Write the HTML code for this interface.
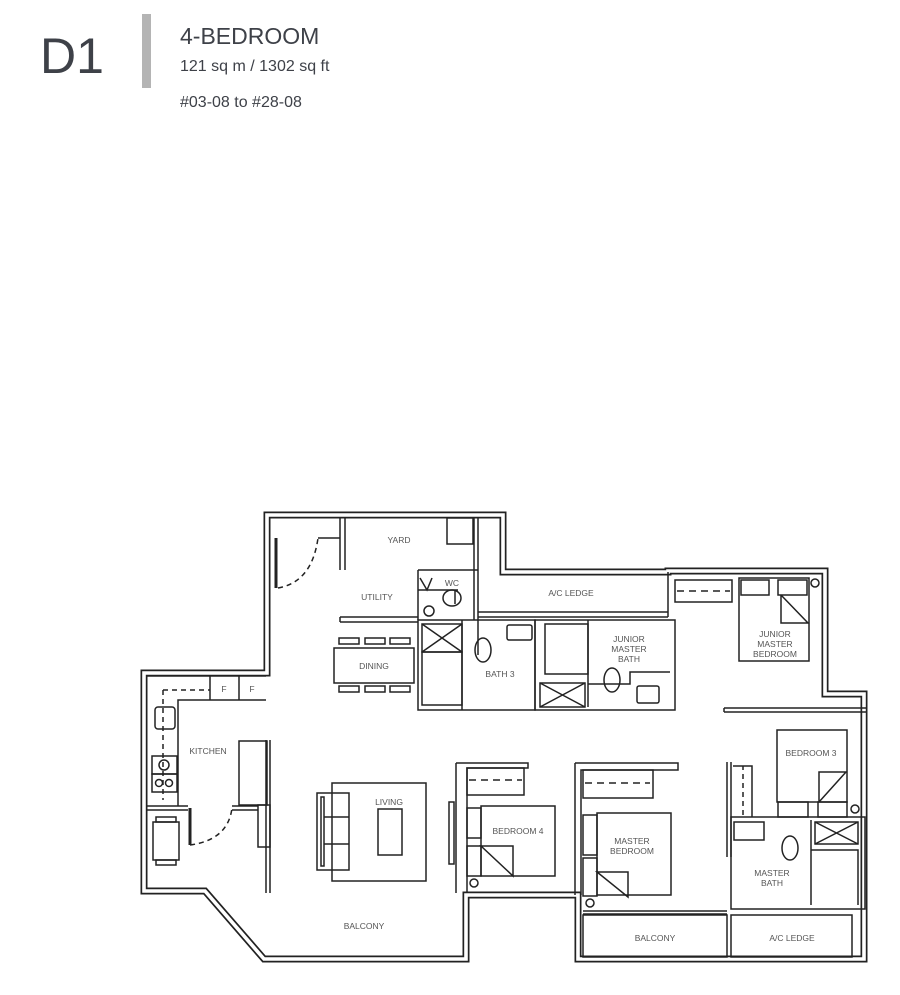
<!DOCTYPE html>
<html><head><meta charset="utf-8"><style>
html,body{margin:0;padding:0;background:#fff;width:900px;height:995px;overflow:hidden}
svg{display:block}
.t{font-family:"Liberation Sans",sans-serif;fill:#555;font-size:8.5px;text-anchor:middle}
</style></head><body>
<svg width="900" height="995" viewBox="0 0 900 995" xmlns="http://www.w3.org/2000/svg">
<!-- header -->
<text x="40" y="73" font-family="Liberation Sans,sans-serif" font-size="50" fill="#3e4148">D1</text>
<rect x="142" y="14" width="9" height="74" fill="#b4b4b4"/>
<text x="180" y="44" font-family="Liberation Sans,sans-serif" font-size="23" fill="#3e4148">4-BEDROOM</text>
<text x="180" y="71" font-family="Liberation Sans,sans-serif" font-size="16" fill="#3e4148">121 sq m / 1302 sq ft</text>
<text x="180" y="107" font-family="Liberation Sans,sans-serif" font-size="16" fill="#3e4148">#03-08 to #28-08</text>

<g fill="none" stroke-linejoin="miter">
<!-- outer walls as double lines -->
<path id="outer" d="M267,515 H503 V572 H668 V571 H825 V694 H864 V959 H578 V895 H466 V959 H264 L205,891 H144 V673 H267 Z" stroke="#222" stroke-width="7"/>
<path d="M267,515 H503 V572 H668 V571 H825 V694 H864 V959 H578 V895 H466 V959 H264 L205,891 H144 V673 H267 Z" stroke="#fff" stroke-width="3.6"/>

<g stroke="#222" stroke-width="1.5">
<!-- living/kitchen wall -->
<path d="M266,740 V893 M270,740 V893"/>
<rect x="239" y="741" width="28" height="64"/>
<rect x="258" y="805" width="12" height="42"/>
<!-- kitchen bottom wall -->
<path d="M147,806 H188 M232,806 H258 M147,810 H188 M232,810 H258"/>
<path d="M190,808 V845" stroke-width="3"/>
<path d="M190,845 Q228,840 232,808" stroke-dasharray="5,4"/>
<!-- kitchen counter -->
<path d="M147,676 H266 M210,676 V700 H178 V806 M210,700 V676 M239,676 V700 M210,700 H266"/>
<path d="M163,690 H210 M163,690 V800" stroke-dasharray="5,4"/>
<rect x="155" y="707" width="20" height="22" rx="3"/>
<rect x="152" y="756" width="25" height="18"/><circle cx="164" cy="765" r="5"/>
<rect x="152" y="774" width="25" height="18"/><circle cx="159" cy="783" r="3.5"/><circle cx="169" cy="783" r="3.5"/>
<text class="t" x="224" y="692" stroke="none">F</text><text class="t" x="252" y="692" stroke="none">F</text>
<!-- kitchen table -->
<rect x="153" y="822" width="26" height="38"/><rect x="156" y="817" width="20" height="5"/><rect x="156" y="860" width="20" height="5"/>
<!-- entry door -->
<path d="M276,538 V588" stroke-width="3"/>
<path d="M278,588 Q312,582 318,538" stroke-dasharray="5,4"/>
<path d="M318,538 H340 M340,518 V570 M345,518 V570"/>
<!-- yard -->
<rect x="447" y="518" width="26" height="26"/>
<path d="M418,570 H478 M418,570 V620 M478,518 V620 M474,518 V620"/>
<!-- WC -->
<path d="M418,590 H458 M455,590 V604 M420,578 L427,590 L432,578"/>
<ellipse cx="452" cy="598" rx="9" ry="8"/><circle cx="429" cy="611" r="5"/>
<!-- utility wall -->
<path d="M340,617 H418 M340,622 H418 M340,617 V622"/>
<!-- dining -->
<rect x="334" y="648" width="80" height="35"/>
<rect x="339" y="638" width="20" height="6"/><rect x="365" y="638" width="20" height="6"/><rect x="390" y="638" width="20" height="6"/>
<rect x="339" y="686" width="20" height="6"/><rect x="365" y="686" width="20" height="6"/><rect x="390" y="686" width="20" height="6"/>
<!-- bath3 block -->
<rect x="418" y="620" width="117" height="90"/>
<rect x="422" y="624" width="40" height="28"/><path d="M422,624 L462,652 M462,624 L422,652"/>
<rect x="422" y="652" width="40" height="53"/>
<path d="M462,620 V710 M478,620 V655"/>
<rect x="507" y="625" width="25" height="15" rx="2"/>
<ellipse cx="483" cy="650" rx="8" ry="12"/>
<!-- A/C ledge bottom -->
<path d="M478,612 H668 M478,617 H668 M668,572 V617"/>
<!-- JM bath block -->
<rect x="535" y="620" width="140" height="90"/>
<rect x="545" y="624" width="43" height="50"/>
<rect x="540" y="683" width="45" height="24"/><path d="M540,683 L585,707 M585,683 L540,707"/>
<path d="M588,620 V707 M588,684 H630 V672 H670"/>
<rect x="637" y="686" width="22" height="17" rx="2"/>
<ellipse cx="612" cy="680" rx="8" ry="12"/>
<!-- JM bedroom -->
<rect x="675" y="580" width="57" height="22"/><path d="M677,591 H730" stroke-dasharray="7,5"/>
<rect x="739" y="578" width="70" height="83"/><rect x="741" y="580" width="28" height="15"/><rect x="778" y="580" width="29" height="15"/>
<path d="M781,595 V623 H808 L781,595"/>
<circle cx="815" cy="583" r="4"/>
<path d="M724,708 H866 M724,712 H866 M724,708 V712"/>
<!-- bedroom 3 -->
<rect x="777" y="730" width="70" height="72"/><path d="M819,802 V772 H846 L819,802"/>
<rect x="778" y="802" width="30" height="15"/><rect x="818" y="802" width="29" height="15"/>
<circle cx="855" cy="809" r="4"/>
<path d="M727,762 V857 M731,762 V857 M733,766 H752 V817 M743,766 V815" stroke-dasharray="0"/>
<path d="M743,770 V815" stroke="#fff" stroke-width="2" stroke-dasharray="4,5"/>
<!-- master bath -->
<rect x="731" y="817" width="134" height="92"/>
<rect x="734" y="822" width="30" height="18"/><rect x="815" y="822" width="43" height="22"/><path d="M815,822 L858,844 M858,822 L815,844"/>
<path d="M811,820 V905 M811,850 H858 V905"/>
<ellipse cx="790" cy="848" rx="8" ry="12"/>
<!-- master A/C ledge and balcony -->
<rect x="731" y="915" width="121" height="42"/>
<rect x="583" y="915" width="144" height="42"/>
<path d="M583,911 H727 M583,914 H727"/>
<!-- master bedroom -->
<path d="M575,763 H678 V770 H581 V895 M575,763 V895"/>
<rect x="583" y="770" width="70" height="28"/><path d="M585,783 H650" stroke-dasharray="7,5"/>
<rect x="597" y="813" width="74" height="82"/><rect x="583" y="815" width="14" height="40"/><rect x="583" y="858" width="14" height="38"/>
<path d="M597,872 H628 V897 Z"/>
<circle cx="590" cy="903" r="4"/>
<!-- bedroom 4 -->
<path d="M456,763 H528 V768 H467 V893 M456,763 V893"/>
<rect x="467" y="768" width="57" height="27"/><path d="M469,780 H522" stroke-dasharray="7,5"/>
<rect x="481" y="806" width="74" height="70"/><rect x="467" y="808" width="14" height="30"/><rect x="467" y="846" width="14" height="30"/>
<path d="M481,846 H513 V876 Z"/>
<circle cx="474" cy="883" r="4"/>
<rect x="449" y="802" width="5" height="62"/>
<!-- living -->
<rect x="332" y="783" width="94" height="98"/>
<rect x="317" y="793" width="32" height="77"/><rect x="321" y="797" width="3" height="69"/>
<path d="M324,817 H349 M324,844 H349"/>
<rect x="378" y="809" width="24" height="46"/>
</g>
</g>

<g class="t">
<text x="399" y="543">YARD</text>
<text x="377" y="600">UTILITY</text>
<text x="452" y="586">WC</text>
<text x="374" y="669">DINING</text>
<text x="500" y="677">BATH 3</text>
<text x="571" y="596">A/C LEDGE</text>
<text x="629" y="642">JUNIOR</text><text x="629" y="652">MASTER</text><text x="629" y="662">BATH</text>
<text x="775" y="637">JUNIOR</text><text x="775" y="647">MASTER</text><text x="775" y="657">BEDROOM</text>
<text x="208" y="754">KITCHEN</text>
<text x="389" y="805">LIVING</text>
<text x="518" y="834">BEDROOM 4</text>
<text x="632" y="844">MASTER</text><text x="632" y="854">BEDROOM</text>
<text x="811" y="756">BEDROOM 3</text>
<text x="772" y="876">MASTER</text><text x="772" y="886">BATH</text>
<text x="364" y="929">BALCONY</text>
<text x="655" y="941">BALCONY</text>
<text x="792" y="941">A/C LEDGE</text>
</g>
</svg>
</body></html>
